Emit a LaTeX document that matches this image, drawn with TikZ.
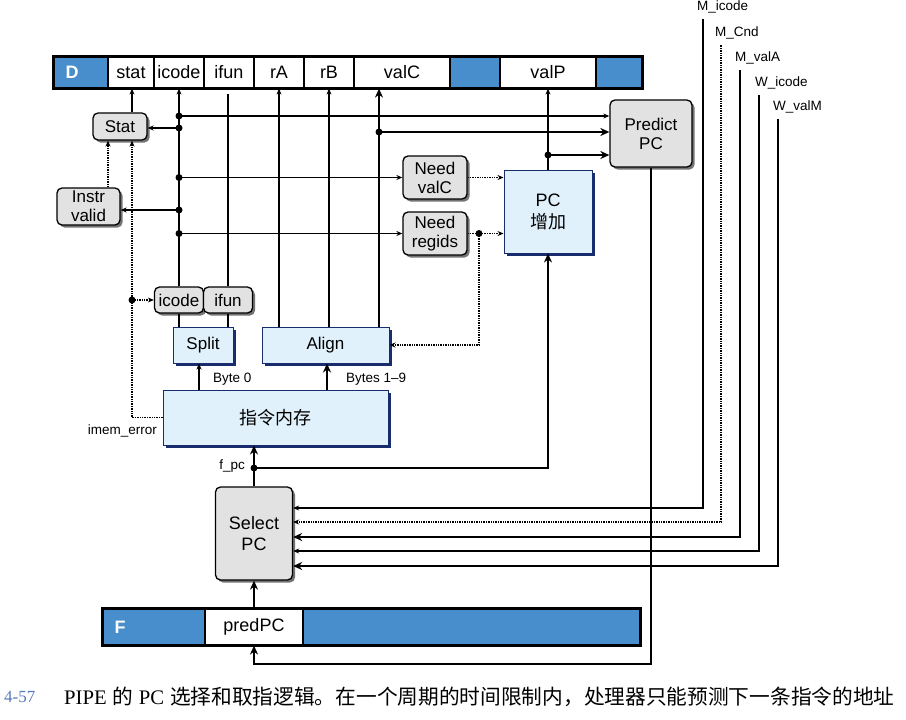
\documentclass[tikz,border=0pt]{standalone}
\usepackage{fontspec}
\setmainfont{Liberation Sans}
\newfontfamily\cjk{Noto Sans CJK SC}
\newfontfamily\capserif{Liberation Serif}
\usetikzlibrary{arrows.meta,shadows}
\definecolor{regblue}{RGB}{72,142,204}
\definecolor{hwfill}{RGB}{224,241,252}
\definecolor{navy}{RGB}{25,45,110}
\definecolor{boxgray}{RGB}{226,226,226}
\definecolor{capblue}{RGB}{90,120,190}
\begin{document}
\begin{tikzpicture}[
  x=1pt,y=-1pt,>={Stealth[length=6pt,width=5pt]},
  regcell/.style={draw,line width=1.2pt,minimum height=31pt,inner sep=0pt,font=\fontsize{18}{20}\selectfont},
  regshade/.style={regcell,fill=regblue},
  reglab/.style={text=white,font=\fontsize{18}{20}\selectfont\bfseries,inner sep=0pt},
  logic/.style={draw,line width=1.3pt,fill=boxgray,rounded corners=5pt,align=center,inner sep=0pt,font=\fontsize{17}{19}\selectfont,drop shadow={shadow xshift=2.5pt,shadow yshift=-2.5pt,fill=black!55,opacity=1}},
  hw/.style={draw=navy,line width=1pt,fill=hwfill,align=center,inner sep=0pt,font=\fontsize{17}{19}\selectfont,drop shadow={shadow xshift=3pt,shadow yshift=-3pt,fill=navy,opacity=1}},
  lab/.style={font=\fontsize{13.5}{15}\selectfont,inner sep=0pt},
  wire/.style={line width=1.1pt},
  bus/.style={line width=2.6pt},
  busarr/.style={bus,-{Stealth[length=9pt,width=8pt]}},
  ctrl/.style={line width=1.4pt,densely dotted},
  dot/.style={circle,fill,inner sep=0pt,minimum size=7pt}
]
\useasboundingbox (0,0) rectangle (906,720);
% D register
\node[regshade,minimum width=54pt,label={[reglab,anchor=west,xshift=12pt]west:D}] (d0) at (81,72.5) {};
\node[regcell,minimum width=46pt] (dstat) at (131,72.5) {stat};
\node[regcell,minimum width=50pt] (dicode) at (179,72.5) {icode};
\node[regcell,minimum width=50pt] (difun) at (229,72.5) {ifun};
\node[regcell,minimum width=50pt] (dra) at (279,72.5) {rA};
\node[regcell,minimum width=50pt] (drb) at (329,72.5) {rB};
\node[regcell,minimum width=96pt] (dvalc) at (402,72.5) {valC};
\node[regshade,minimum width=50pt] (dsh1) at (475,72.5) {};
\node[regcell,minimum width=96pt] (dvalp) at (548,72.5) {valP};
\node[regshade,minimum width=46pt] (dsh2) at (619,72.5) {};
\draw[line width=2.2pt] (d0.north west) rectangle (dsh2.south east);
% F register
\node[regshade,minimum width=102pt,minimum height=36pt,label={[reglab,anchor=west,xshift=12pt]west:F}] (f0) at (154,627) {};
\node[regcell,minimum width=98pt,minimum height=36pt] (fpred) at (254,627) {predPC};
\node[regshade,minimum width=337pt,minimum height=36pt] (fsh) at (471.5,627) {};
\draw[line width=2.2pt] (f0.north west) rectangle (fsh.south east);

% control boxes
\node[logic,minimum width=54pt,minimum height=27pt] (stat) at (120,126.5) {Stat};
\node[logic,minimum width=63pt,minimum height=37pt] (instr) at (88.5,206.5) {Instr\\valid};
\node[logic,minimum width=64pt,minimum height=43pt] (needvalc) at (435,177.5) {Need\\valC};
\node[logic,minimum width=64pt,minimum height=43pt] (needregids) at (435,233.5) {Need\\regids};
\node[logic,minimum width=82pt,minimum height=67pt] (predict) at (651,133.5) {Predict\\PC};
\node[logic,minimum width=77pt,minimum height=93pt,font=\fontsize{18}{21}\selectfont] (selpc) at (254,533.5) {Select\\PC};
\node[logic,minimum width=49pt,minimum height=26pt] (ficode) at (179,300) {icode};
\node[logic,minimum width=49pt,minimum height=26pt] (fifun) at (228,300) {ifun};
% hardware blocks
\node[hw,minimum width=60pt,minimum height=36pt] (split) at (203,345) {Split};
\node[hw,minimum width=127pt,minimum height=36pt] (align) at (325.5,345) {Align};
\node[hw,minimum width=225pt,minimum height=55pt,font=\fontsize{18}{20}\selectfont\cjk] (imem) at (275.5,417.5) {指令内存};
\node[hw,minimum width=88pt,minimum height=83pt,font=\fontsize{18}{22}\selectfont] (pcinc) at (548,211.5) {PC\\{\cjk 增加}};

% forwarded signals
\node[lab,anchor=west] (micode) at (697,7) {M\_icode};
\node[lab,anchor=west] (mcnd) at (715,33) {M\_Cnd};
\node[lab,anchor=west] (mvala) at (735,58) {M\_valA};
\node[lab,anchor=west] (wicode) at (755,83) {W\_icode};
\node[lab,anchor=west] (wvalm) at (773,107) {W\_valM};
\node[lab,anchor=west] (lbyte) at (213,379) {Byte 0};
\node[lab,anchor=west] (lbytes) at (346,379) {Bytes 1--9};
\node[lab,anchor=east] (lfpc) at (245,466) {f\_pc};
\node[lab,anchor=east] (limem) at (157,431) {imem\_error};

\coordinate (xstat) at (132,0);
\coordinate (xinst) at (108,0);
\coordinate (xvalc) at (379,0);
\coordinate (xbyte) at (199,0);
\coordinate (xbytes) at (327,0);
\coordinate (j1) at (179,116);
\coordinate (j2) at (179,128);
\coordinate (j3) at (379,132);
\coordinate (j4) at (548,155);
\coordinate (j5) at (179,177.5);
\coordinate (j6) at (179,210);
\coordinate (j7) at (179,233.5);
\coordinate (j8) at (479,233.5);
\coordinate (j9) at (132,300);
\coordinate (j10) at (254,468);
\coordinate (fbot) at (0,664);

% fields up into D
\draw[wire,->] (stat.north -| xstat) -- (dstat.south -| xstat);
\draw[wire,->] (ficode.north) -- (dicode.south);
\draw[wire] (fifun.north) -- (fifun.north |- 0,94);
\draw[wire] (split.north -| ficode) -- (ficode.south);
\draw[wire] (split.north -| fifun) -- (fifun.south);
\draw[wire,->] (align.north -| dra) -- (dra.south);
\draw[wire,->] (align.north -| drb) -- (drb.south);
\draw[busarr] (align.north -| xvalc) -- (dvalc.south -| xvalc);
\draw[wire,line width=1.4pt,->] (pcinc.north) -- (dvalp.south);
% icode taps
\draw[wire,->] (j1) -- (j1 -| predict.west);
\draw[wire,->] (j2) -- (j2 -| stat.east);
\draw[wire,->] (j5) -- (needvalc.west);
\draw[wire,->] (j6) -- (j6 -| instr.east);
\draw[wire,->] (j7) -- (needregids.west);
\draw[busarr] (j3) -- (j3 -| predict.west);
\draw[busarr] (j4) -- (j4 -| predict.west);
% control signals
\draw[ctrl,->] (needvalc.east) -- (needvalc.east -| pcinc.west);
\draw[ctrl,->] (needregids.east) -- (needregids.east -| pcinc.west);
\draw[ctrl,->] (j8) |- (align.east);
\draw[ctrl,->] (instr.north -| xinst) -- (stat.south -| xinst);
\draw[ctrl,->] (imem.west) -| (stat.south -| xstat);
\draw[ctrl,->] (j9) -- (ficode.west);
% fetch
\draw[wire,->] (imem.north -| xbyte) -- (split.south -| xbyte);
\draw[busarr] (imem.north -| xbytes) -- (align.south -| xbytes);
\draw[busarr] (selpc.north) -- (imem.south -| selpc);
\draw[busarr] (j10) -| (pcinc.south);
\draw[busarr] (fpred.north) -- (selpc.south);
\draw[busarr] (predict.south) |- (fbot -| fpred) -- (fpred.south);
% select PC inputs
\draw[wire,->] ([xshift=6pt,yshift=-6pt]micode.south west) |- (selpc.east |- 0,508);
\draw[ctrl,->] ([xshift=6pt,yshift=-6pt]mcnd.south west) |- (selpc.east |- 0,522);
\draw[busarr] ([xshift=5pt,yshift=-6pt]mvala.south west) |- (selpc.east |- 0,537);
\draw[wire,->] ([xshift=4pt,yshift=-6pt]wicode.south west) |- (selpc.east |- 0,551);
\draw[busarr] ([xshift=5pt,yshift=-6pt]wvalm.south west) |- (selpc.east |- 0,566);

\foreach \j in {j1,j2,j3,j4,j5,j6,j7,j8,j9,j10}
  \node[dot] at (\j) {};

% caption
\node[anchor=west,inner sep=0pt,text=capblue,font=\fontsize{17}{19}\capserif] (fignum) at (4,697) {4-57};
\node[anchor=west,inner sep=0pt,font=\fontsize{20.7}{23}\selectfont] (caption) at (64,697) {{\capserif PIPE} {\cjk 的} {\capserif PC} {\cjk 选择和取指逻辑。在一个周期的时间限制内，处理器只能预测下一条指令的地址}};
\end{tikzpicture}
\end{document}
